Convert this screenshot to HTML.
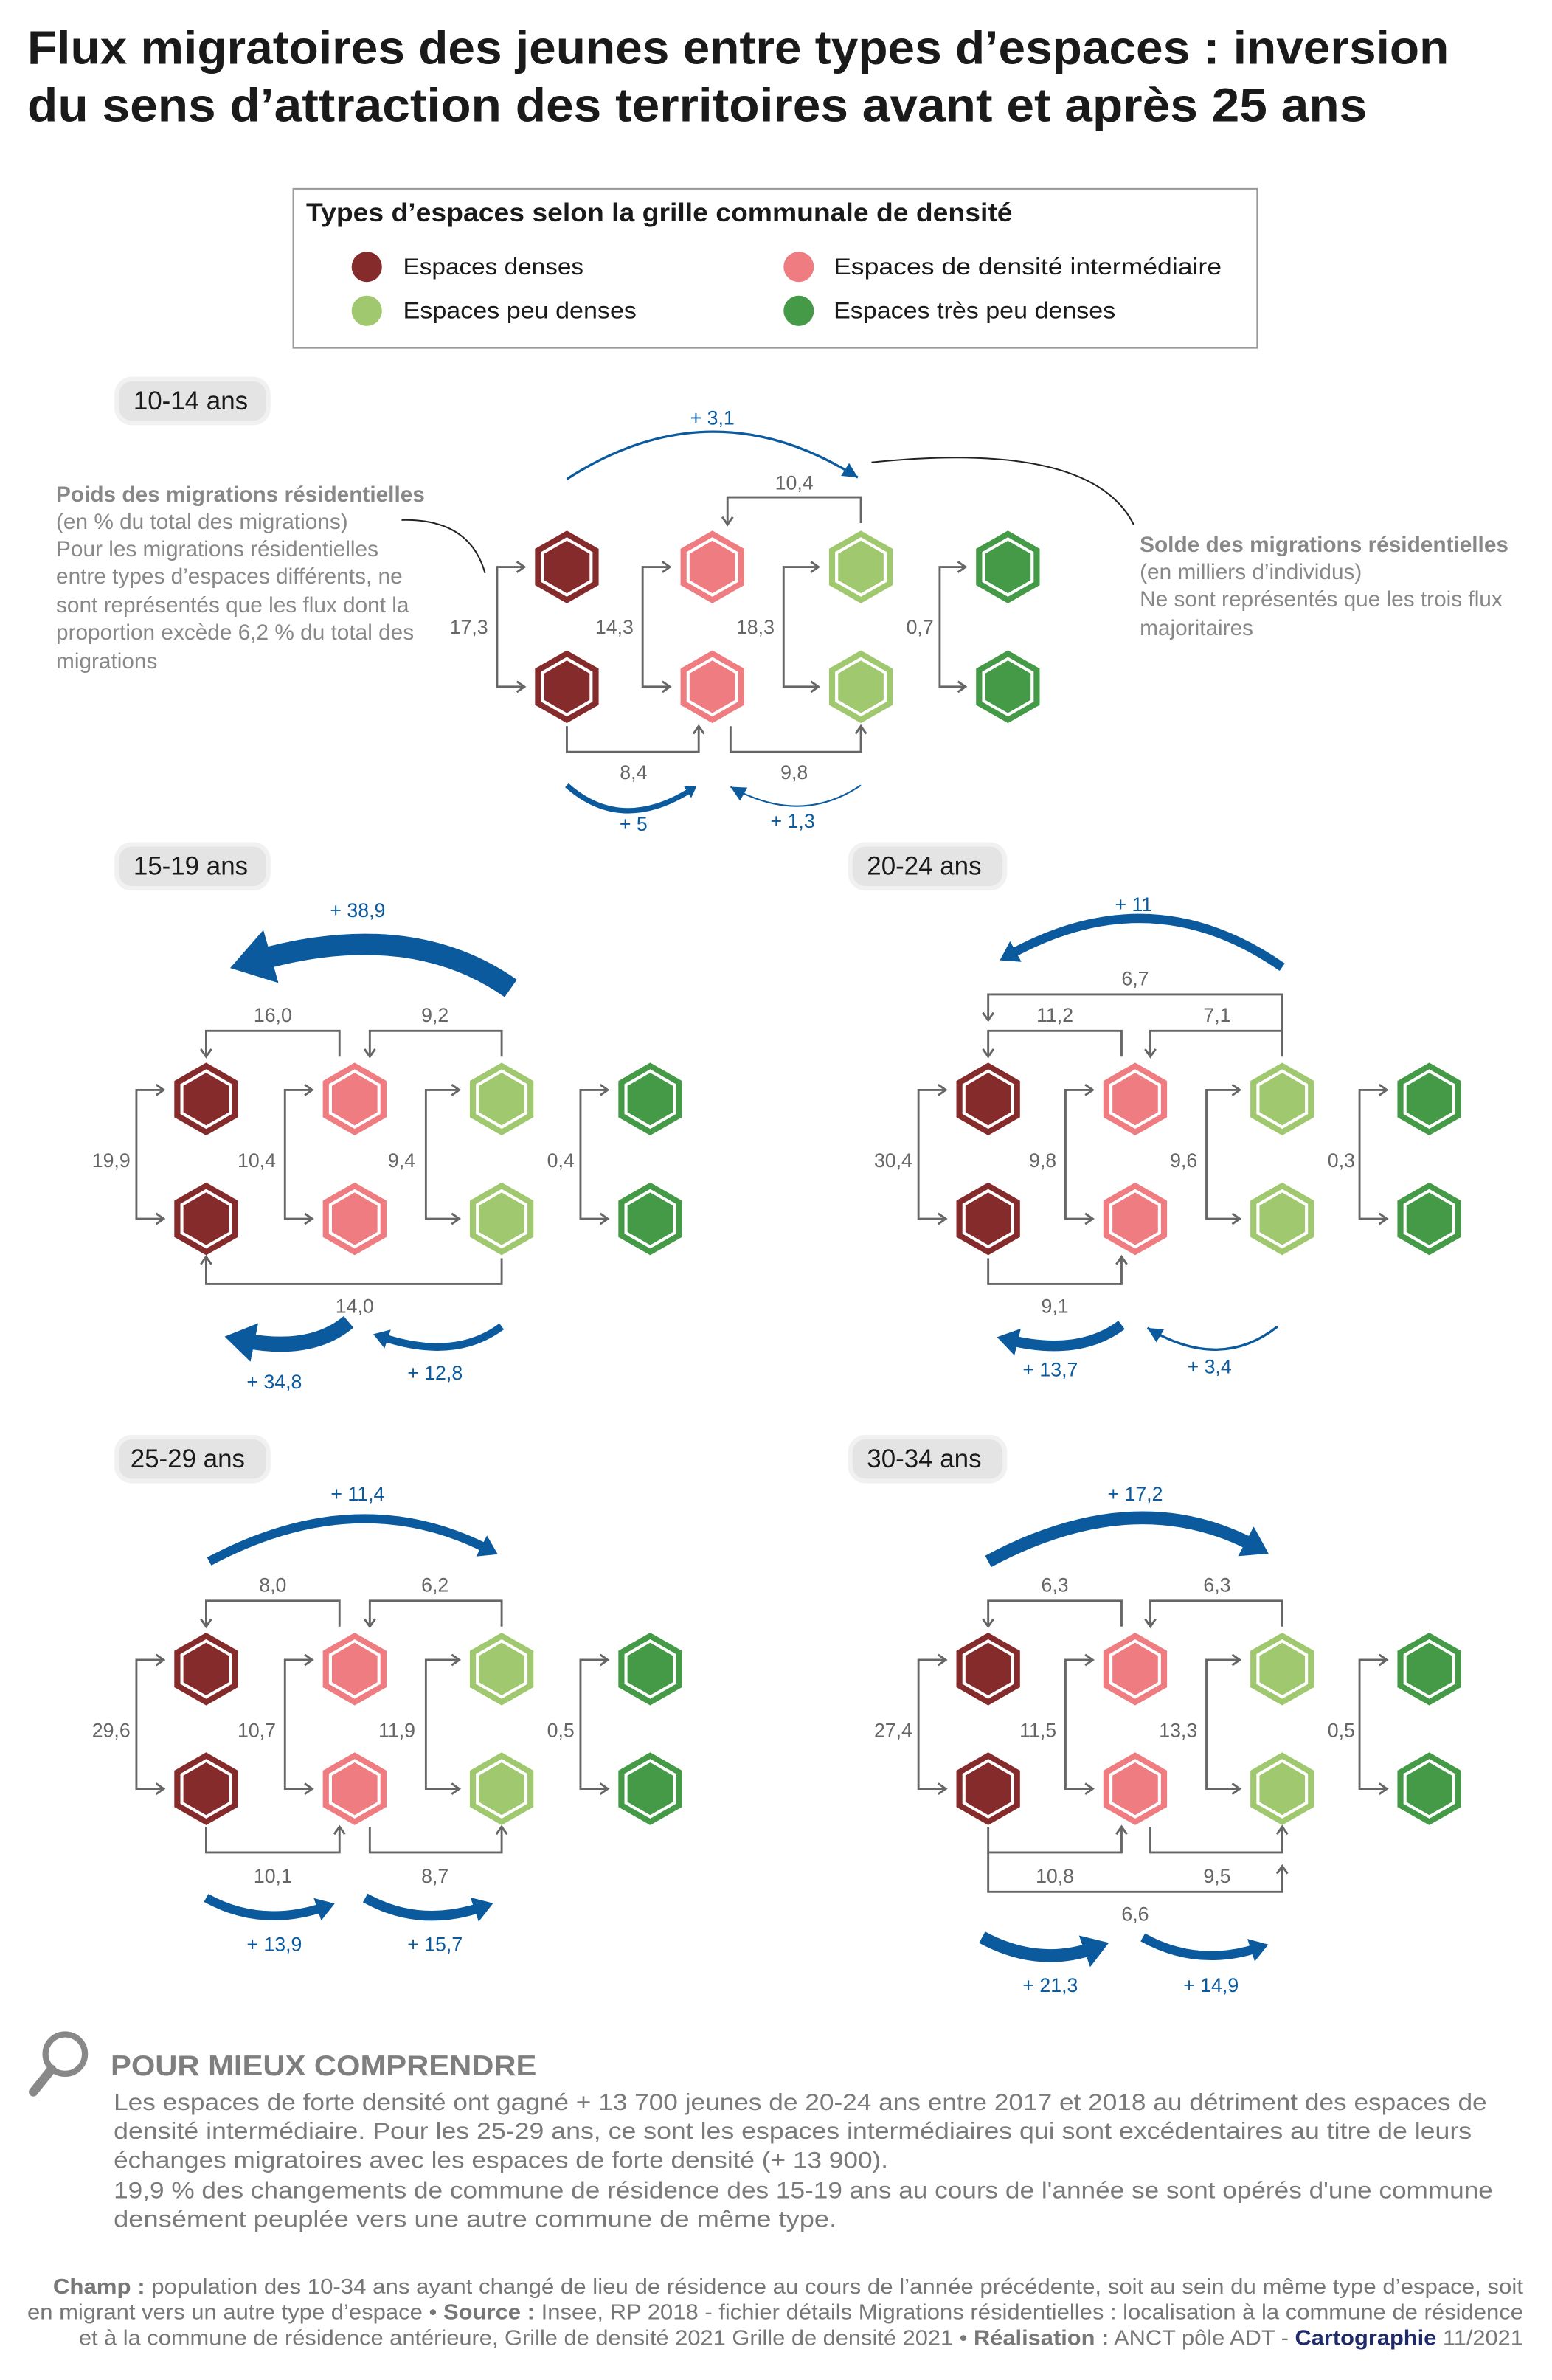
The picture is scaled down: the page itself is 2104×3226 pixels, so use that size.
<!DOCTYPE html>
<html><head><meta charset="utf-8"><style>
html,body{margin:0;padding:0;background:#fff}
svg{display:block}
text{font-family:"Liberation Sans Narrow","Liberation Sans",sans-serif}
.t{font-family:"Liberation Sans",sans-serif;font-weight:bold;fill:#1a1a1a}
.n{font-size:13px;fill:#666}
.b{font-size:13px;fill:#0b5a9e}
.c{fill:none;stroke:#666;stroke-width:1.4}
.bl{fill:none;stroke:#0b5a9e}
.pl{fill:#e4e4e4;stroke:#f1f1f1;stroke-width:3}
.pt{font-family:"Liberation Sans",sans-serif;font-size:17px;fill:#1a1a1a}
.an{font-size:14.5px;fill:#888}
</style></head><body>
<svg width="2104" height="3226" viewBox="0 0 1024 1570" xmlns="http://www.w3.org/2000/svg">
<defs>
<polygon id="ho" points="0,-24 21,-12 21,12 0,24 -21,12 -21,-12"/>
<polygon id="hi" points="0,-18.5 16,-9.3 16,9.3 0,18.5 -16,9.3 -16,-9.3"/>
<g id="h1"><use href="#ho" fill="#862b2c"/><use href="#hi" fill="#862b2c" stroke="#fff" stroke-width="2"/></g>
<g id="h2"><use href="#ho" fill="#ee7c80"/><use href="#hi" fill="#ee7c80" stroke="#fff" stroke-width="2"/></g>
<g id="h3"><use href="#ho" fill="#a0c86f"/><use href="#hi" fill="#a0c86f" stroke="#fff" stroke-width="2"/></g>
<g id="h4"><use href="#ho" fill="#449a46"/><use href="#hi" fill="#449a46" stroke="#fff" stroke-width="2"/></g>
<marker id="ga" markerUnits="userSpaceOnUse" markerWidth="10" markerHeight="10" refX="7" refY="5" orient="auto-start-reverse"><polyline points="2,1.5 7,5 2,8.5" fill="none" stroke="#666" stroke-width="1.4"/></marker>
<marker id="ba" markerUnits="strokeWidth" markerWidth="4" markerHeight="4" refX="0.8" refY="2" orient="auto"><polygon points="0,0.7 2,2 0,3.3" fill="#0b5a9e"/></marker>
<marker id="bt" markerUnits="userSpaceOnUse" markerWidth="14" markerHeight="14" refX="10" refY="7" orient="auto"><polygon points="0,2 10,7 0,12" fill="#0b5a9e"/></marker>
</defs>

<!-- Title -->
<text class="t" x="18" y="42" font-size="31" textLength="938" lengthAdjust="spacingAndGlyphs">Flux migratoires des jeunes entre types d’espaces : inversion</text>
<text class="t" x="18" y="80" font-size="31" textLength="884" lengthAdjust="spacingAndGlyphs">du sens d’attraction des territoires avant et après 25 ans</text>

<!-- Legend -->
<rect x="193.5" y="124.5" width="636" height="105" fill="#fff" stroke="#999" stroke-width="1"/>
<text class="t" x="202" y="146" font-size="17" textLength="466" lengthAdjust="spacingAndGlyphs">Types d’espaces selon la grille communale de densité</text>
<circle cx="242" cy="176" r="10" fill="#862b2c"/>
<circle cx="242" cy="205" r="10" fill="#a0c86f"/>
<circle cx="527" cy="176" r="10" fill="#ee7c80"/>
<circle cx="527" cy="205" r="10" fill="#449a46"/>
<g font-family="Liberation Sans,sans-serif" font-size="15.5" fill="#1a1a1a">
<text x="266" y="181" textLength="119" lengthAdjust="spacingAndGlyphs">Espaces denses</text>
<text x="266" y="210" textLength="154" lengthAdjust="spacingAndGlyphs">Espaces peu denses</text>
<text x="550" y="181" textLength="256" lengthAdjust="spacingAndGlyphs">Espaces de densité intermédiaire</text>
<text x="550" y="210" textLength="186" lengthAdjust="spacingAndGlyphs">Espaces très peu denses</text>
</g>

<!-- Pills -->
<rect class="pl" x="77" y="250" width="100" height="29" rx="10"/><text class="pt" x="88" y="270">10-14 ans</text>
<rect class="pl" x="77" y="557" width="100" height="29" rx="10"/><text class="pt" x="88" y="577">15-19 ans</text>
<rect class="pl" x="561" y="557" width="102" height="29" rx="10"/><text class="pt" x="572" y="577">20-24 ans</text>
<rect class="pl" x="77" y="948" width="100" height="29" rx="10"/><text class="pt" x="86" y="968">25-29 ans</text>
<rect class="pl" x="561" y="948" width="102" height="29" rx="10"/><text class="pt" x="572" y="968">30-34 ans</text>

<!-- ===== 10-14 ===== -->
<g>
<use href="#h1" x="374" y="374"/><use href="#h1" x="374" y="453"/>
<use href="#h2" x="470" y="374"/><use href="#h2" x="470" y="453"/>
<use href="#h3" x="568" y="374"/><use href="#h3" x="568" y="453"/>
<use href="#h4" x="665" y="374"/><use href="#h4" x="665" y="453"/>
<path class="c" d="M346,374 H328 V453 H346" marker-start="url(#ga)" marker-end="url(#ga)"/>
<path class="c" d="M442,374 H424 V453 H442" marker-start="url(#ga)" marker-end="url(#ga)"/>
<path class="c" d="M540,374 H517 V453 H540" marker-start="url(#ga)" marker-end="url(#ga)"/>
<path class="c" d="M637,374 H620 V453 H637" marker-start="url(#ga)" marker-end="url(#ga)"/>
<path class="c" d="M568,345 V328 H480 V346" marker-end="url(#ga)"/>
<path class="c" d="M374,479 V496 H461 V479" marker-end="url(#ga)"/>
<path class="c" d="M482,479 V496 H568 V479" marker-end="url(#ga)"/>
<text class="n" x="322" y="418" text-anchor="end">17,3</text>
<text class="n" x="418" y="418" text-anchor="end">14,3</text>
<text class="n" x="511" y="418" text-anchor="end">18,3</text>
<text class="n" x="616" y="418" text-anchor="end">0,7</text>
<text class="n" x="524" y="323" text-anchor="middle">10,4</text>
<text class="n" x="418" y="514" text-anchor="middle">8,4</text>
<text class="n" x="524" y="514" text-anchor="middle">9,8</text>
<path class="bl" stroke-width="1.6" d="M374,316 Q470,254 566,315" marker-end="url(#bt)"/>
<text class="b" x="470" y="280" text-anchor="middle">+ 3,1</text>
<path class="bl" stroke-width="3.5" d="M374,518 Q410,550 456,521" marker-end="url(#ba)"/>
<text class="b" x="418" y="548" text-anchor="middle">+ 5</text>
<path class="bl" stroke-width="1" d="M568,518 Q528,545 482,519" marker-end="url(#bt)"/>
<text class="b" x="523" y="546" text-anchor="middle">+ 1,3</text>
<text x="37" y="331" font-size="14.5" font-weight="bold" fill="#888">Poids des migrations résidentielles</text>
<text class="an" x="37" y="349">(en % du total des migrations)</text>
<text class="an" x="37" y="367">Pour les migrations résidentielles</text>
<text class="an" x="37" y="385">entre types d’espaces différents, ne</text>
<text class="an" x="37" y="404">sont représentés que les flux dont la</text>
<text class="an" x="37" y="422">proportion excède 6,2 % du total des</text>
<text class="an" x="37" y="441">migrations</text>
<path d="M265,343 Q310,342 320,378" fill="none" stroke="#222" stroke-width="1"/>
<text x="752" y="364" font-size="14.5" font-weight="bold" fill="#888">Solde des migrations résidentielles</text>
<text class="an" x="752" y="382">(en milliers d’individus)</text>
<text class="an" x="752" y="400">Ne sont représentés que les trois flux</text>
<text class="an" x="752" y="419">majoritaires</text>
<path d="M575,305 Q720,290 748,346" fill="none" stroke="#222" stroke-width="1"/>
</g>

<!-- ===== 15-19 ===== -->
<g>
<use href="#h1" x="136" y="725"/><use href="#h1" x="136" y="804"/>
<use href="#h2" x="234" y="725"/><use href="#h2" x="234" y="804"/>
<use href="#h3" x="331" y="725"/><use href="#h3" x="331" y="804"/>
<use href="#h4" x="429" y="725"/><use href="#h4" x="429" y="804"/>
<path class="c" d="M108,719 H90 V804 H108" marker-start="url(#ga)" marker-end="url(#ga)"/>
<path class="c" d="M206,719 H188 V804 H206" marker-start="url(#ga)" marker-end="url(#ga)"/>
<path class="c" d="M303,719 H281 V804 H303" marker-start="url(#ga)" marker-end="url(#ga)"/>
<path class="c" d="M401,719 H383 V804 H401" marker-start="url(#ga)" marker-end="url(#ga)"/>
<path class="c" d="M224,697 V680 H136 V697" marker-end="url(#ga)"/>
<path class="c" d="M331,697 V680 H244 V697" marker-end="url(#ga)"/>
<path class="c" d="M331,830 V847 H136 V829" marker-end="url(#ga)"/>
<text class="n" x="86" y="770" text-anchor="end">19,9</text>
<text class="n" x="182" y="770" text-anchor="end">10,4</text>
<text class="n" x="274" y="770" text-anchor="end">9,4</text>
<text class="n" x="379" y="770" text-anchor="end">0,4</text>
<text class="n" x="180" y="674" text-anchor="middle">16,0</text>
<text class="n" x="287" y="674" text-anchor="middle">9,2</text>
<text class="n" x="234" y="866" text-anchor="middle">14,0</text>
<path class="bl" stroke-width="14" d="M337,652 Q270,605 168,634" marker-end="url(#ba)"/>
<text class="b" x="236" y="605" text-anchor="middle">+ 38,9</text>
<path class="bl" stroke-width="10" d="M230,872 Q205,893 160,884" marker-end="url(#ba)"/>
<text class="b" x="181" y="916" text-anchor="middle">+ 34,8</text>
<path class="bl" stroke-width="5" d="M331,875 Q300,898 252,882" marker-end="url(#ba)"/>
<text class="b" x="287" y="910" text-anchor="middle">+ 12,8</text>
</g>

<!-- ===== 20-24 ===== -->
<g>
<use href="#h1" x="652" y="725"/><use href="#h1" x="652" y="804"/>
<use href="#h2" x="749" y="725"/><use href="#h2" x="749" y="804"/>
<use href="#h3" x="846" y="725"/><use href="#h3" x="846" y="804"/>
<use href="#h4" x="943" y="725"/><use href="#h4" x="943" y="804"/>
<path class="c" d="M624,719 H606 V804 H624" marker-start="url(#ga)" marker-end="url(#ga)"/>
<path class="c" d="M721,719 H703 V804 H721" marker-start="url(#ga)" marker-end="url(#ga)"/>
<path class="c" d="M818,719 H796 V804 H818" marker-start="url(#ga)" marker-end="url(#ga)"/>
<path class="c" d="M915,719 H897 V804 H915" marker-start="url(#ga)" marker-end="url(#ga)"/>
<path class="c" d="M846,680 V656 H652 V673" marker-end="url(#ga)"/>
<path class="c" d="M740,697 V680 H652 V697" marker-end="url(#ga)"/>
<path class="c" d="M846,697 V680 H759 V697" marker-end="url(#ga)"/>
<path class="c" d="M652,830 V847 H740 V829" marker-end="url(#ga)"/>
<text class="n" x="602" y="770" text-anchor="end">30,4</text>
<text class="n" x="697" y="770" text-anchor="end">9,8</text>
<text class="n" x="790" y="770" text-anchor="end">9,6</text>
<text class="n" x="894" y="770" text-anchor="end">0,3</text>
<text class="n" x="749" y="650" text-anchor="middle">6,7</text>
<text class="n" x="696" y="674" text-anchor="middle">11,2</text>
<text class="n" x="803" y="674" text-anchor="middle">7,1</text>
<text class="n" x="696" y="866" text-anchor="middle">9,1</text>
<path class="bl" stroke-width="6" d="M846,638 Q760,578 666,630" marker-end="url(#ba)"/>
<text class="b" x="748" y="601" text-anchor="middle">+ 11</text>
<path class="bl" stroke-width="7" d="M740,874 Q712,895 666,884" marker-end="url(#ba)"/>
<text class="b" x="693" y="908" text-anchor="middle">+ 13,7</text>
<path class="bl" stroke-width="1.6" d="M843,875 Q805,905 757,876" marker-end="url(#bt)"/>
<text class="b" x="798" y="906" text-anchor="middle">+ 3,4</text>
</g>

<!-- ===== 25-29 ===== -->
<g>
<use href="#h1" x="136" y="1101"/><use href="#h1" x="136" y="1180"/>
<use href="#h2" x="234" y="1101"/><use href="#h2" x="234" y="1180"/>
<use href="#h3" x="331" y="1101"/><use href="#h3" x="331" y="1180"/>
<use href="#h4" x="429" y="1101"/><use href="#h4" x="429" y="1180"/>
<path class="c" d="M108,1095 H90 V1180 H108" marker-start="url(#ga)" marker-end="url(#ga)"/>
<path class="c" d="M206,1095 H188 V1180 H206" marker-start="url(#ga)" marker-end="url(#ga)"/>
<path class="c" d="M303,1095 H281 V1180 H303" marker-start="url(#ga)" marker-end="url(#ga)"/>
<path class="c" d="M401,1095 H383 V1180 H401" marker-start="url(#ga)" marker-end="url(#ga)"/>
<path class="c" d="M224,1073 V1056 H136 V1073" marker-end="url(#ga)"/>
<path class="c" d="M331,1073 V1056 H244 V1073" marker-end="url(#ga)"/>
<path class="c" d="M136,1205 V1222 H224 V1205" marker-end="url(#ga)"/>
<path class="c" d="M244,1205 V1222 H331 V1205" marker-end="url(#ga)"/>
<text class="n" x="86" y="1146" text-anchor="end">29,6</text>
<text class="n" x="182" y="1146" text-anchor="end">10,7</text>
<text class="n" x="274" y="1146" text-anchor="end">11,9</text>
<text class="n" x="379" y="1146" text-anchor="end">0,5</text>
<text class="n" x="180" y="1050" text-anchor="middle">8,0</text>
<text class="n" x="287" y="1050" text-anchor="middle">6,2</text>
<text class="n" x="180" y="1242" text-anchor="middle">10,1</text>
<text class="n" x="287" y="1242" text-anchor="middle">8,7</text>
<path class="bl" stroke-width="6" d="M138,1030 Q236,978 322,1022" marker-end="url(#ba)"/>
<text class="b" x="236" y="990" text-anchor="middle">+ 11,4</text>
<path class="bl" stroke-width="6" d="M136,1252 Q172,1272 214,1258" marker-end="url(#ba)"/>
<text class="b" x="181" y="1287" text-anchor="middle">+ 13,9</text>
<path class="bl" stroke-width="6.5" d="M241,1252 Q277,1272 318,1258" marker-end="url(#ba)"/>
<text class="b" x="287" y="1287" text-anchor="middle">+ 15,7</text>
</g>

<!-- ===== 30-34 ===== -->
<g>
<use href="#h1" x="652" y="1101"/><use href="#h1" x="652" y="1180"/>
<use href="#h2" x="749" y="1101"/><use href="#h2" x="749" y="1180"/>
<use href="#h3" x="846" y="1101"/><use href="#h3" x="846" y="1180"/>
<use href="#h4" x="943" y="1101"/><use href="#h4" x="943" y="1180"/>
<path class="c" d="M624,1095 H606 V1180 H624" marker-start="url(#ga)" marker-end="url(#ga)"/>
<path class="c" d="M721,1095 H703 V1180 H721" marker-start="url(#ga)" marker-end="url(#ga)"/>
<path class="c" d="M818,1095 H796 V1180 H818" marker-start="url(#ga)" marker-end="url(#ga)"/>
<path class="c" d="M915,1095 H897 V1180 H915" marker-start="url(#ga)" marker-end="url(#ga)"/>
<path class="c" d="M740,1073 V1056 H652 V1073" marker-end="url(#ga)"/>
<path class="c" d="M846,1073 V1056 H759 V1073" marker-end="url(#ga)"/>
<path class="c" d="M652,1205 V1222 H740 V1205" marker-end="url(#ga)"/>
<path class="c" d="M759,1205 V1222 H846 V1205" marker-end="url(#ga)"/>
<path class="c" d="M652,1222 V1248 H846 V1231" marker-end="url(#ga)"/>
<text class="n" x="602" y="1146" text-anchor="end">27,4</text>
<text class="n" x="697" y="1146" text-anchor="end">11,5</text>
<text class="n" x="790" y="1146" text-anchor="end">13,3</text>
<text class="n" x="894" y="1146" text-anchor="end">0,5</text>
<text class="n" x="696" y="1050" text-anchor="middle">6,3</text>
<text class="n" x="803" y="1050" text-anchor="middle">6,3</text>
<text class="n" x="696" y="1242" text-anchor="middle">10,8</text>
<text class="n" x="803" y="1242" text-anchor="middle">9,5</text>
<text class="n" x="749" y="1267" text-anchor="middle">6,6</text>
<path class="bl" stroke-width="8.5" d="M652,1030 Q749,978 828,1020" marker-end="url(#ba)"/>
<text class="b" x="749" y="990" text-anchor="middle">+ 17,2</text>
<path class="bl" stroke-width="8.5" d="M648,1278 Q685,1298 722,1285" marker-end="url(#ba)"/>
<text class="b" x="693" y="1314" text-anchor="middle">+ 21,3</text>
<path class="bl" stroke-width="6" d="M754,1278 Q790,1298 830,1285" marker-end="url(#ba)"/>
<text class="b" x="799" y="1314" text-anchor="middle">+ 14,9</text>
</g>

<!-- Pour mieux comprendre -->
<circle cx="43" cy="1355" r="13" fill="none" stroke="#888" stroke-width="4"/>
<path d="M34,1365 L22,1380" stroke="#888" stroke-width="6" stroke-linecap="round"/>
<text x="73" y="1369" font-family="Liberation Sans,sans-serif" font-size="19" font-weight="bold" fill="#7f7f7f" textLength="281" lengthAdjust="spacingAndGlyphs">POUR MIEUX COMPRENDRE</text>
<g font-family="Liberation Sans,sans-serif" font-size="15.5" fill="#7a7a7a">
<text x="75" y="1392" textLength="906" lengthAdjust="spacingAndGlyphs">Les espaces de forte densité ont gagné + 13 700 jeunes de 20-24 ans entre 2017 et 2018 au détriment des espaces de</text>
<text x="75" y="1411" textLength="896" lengthAdjust="spacingAndGlyphs">densité intermédiaire. Pour les 25-29 ans, ce sont les espaces intermédiaires qui sont excédentaires au titre de leurs</text>
<text x="75" y="1430" textLength="511" lengthAdjust="spacingAndGlyphs">échanges migratoires avec les espaces de forte densité (+ 13 900).</text>
<text x="75" y="1450" textLength="910" lengthAdjust="spacingAndGlyphs">19,9 % des changements de commune de résidence des 15-19 ans au cours de l'année se sont opérés d'une commune</text>
<text x="75" y="1469" textLength="477" lengthAdjust="spacingAndGlyphs">densément peuplée vers une autre commune de même type.</text>
</g>
<g font-family="Liberation Sans,sans-serif" font-size="14" fill="#777">
<text x="35" y="1513" textLength="970" lengthAdjust="spacingAndGlyphs"><tspan font-weight="bold">Champ :</tspan> population des 10-34 ans ayant changé de lieu de résidence au cours de l’année précédente, soit au sein du même type d’espace, soit</text>
<text x="18" y="1530" textLength="987" lengthAdjust="spacingAndGlyphs">en migrant vers un autre type d’espace • <tspan font-weight="bold">Source :</tspan> Insee, RP 2018 - fichier détails Migrations résidentielles : localisation à la commune de résidence</text>
<text x="52" y="1547" textLength="953" lengthAdjust="spacingAndGlyphs">et à la commune de résidence antérieure, Grille de densité 2021 Grille de densité 2021 • <tspan font-weight="bold">Réalisation :</tspan> ANCT pôle ADT - <tspan font-weight="bold" fill="#1f2a6b">Cartographie</tspan> 11/2021</text>
</g>
</svg>
</body></html>
